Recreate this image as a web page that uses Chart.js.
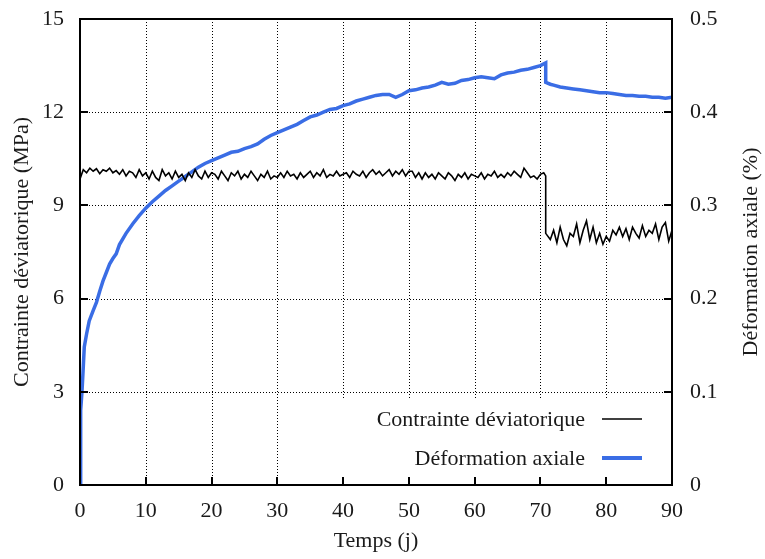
<!DOCTYPE html>
<html>
<head>
<meta charset="utf-8">
<script src="https://cdn.jsdelivr.net/npm/chart.js@4.4.1/dist/chart.umd.min.js"></script>
<style>
  html, body { margin: 0; padding: 0; background: #fff; }
  #wrap { width: 765px; height: 559px; }
</style>
</head>
<body>
<div id="wrap"><canvas id="chart" width="765" height="559"></canvas></div>
<script>
// Contrainte déviatorique (MPa) vs temps (j)
const stressDays = [
  0, 0.5, 1, 1.5, 2, 2.5, 3, 3.5, 4, 4.5, 5, 5.5, 6, 6.5, 7, 7.5, 8, 8.5, 9, 9.5, 10,
  10.5, 11, 11.5, 12, 12.5, 13, 13.5, 14, 14.5, 15, 15.5, 16, 16.5, 17, 17.5, 18, 18.5, 19, 19.5, 20,
  20.5, 21, 21.5, 22, 22.5, 23, 23.5, 24, 24.5, 25, 25.5, 26, 26.5, 27, 27.5, 28, 28.5, 29, 29.5, 30,
  30.5, 31, 31.5, 32, 32.5, 33, 33.5, 34, 34.5, 35, 35.5, 36, 36.5, 37, 37.5, 38, 38.5, 39, 39.5, 40,
  40.5, 41, 41.5, 42, 42.5, 43, 43.5, 44, 44.5, 45, 45.5, 46, 46.5, 47, 47.5, 48, 48.5, 49, 49.5, 50,
  50.5, 51, 51.5, 52, 52.5, 53, 53.5, 54, 54.5, 55, 55.5, 56, 56.5, 57, 57.5, 58, 58.5, 59, 59.5, 60,
  60.5, 61, 61.5, 62, 62.5, 63, 63.5, 64, 64.5, 65, 65.5, 66, 66.5, 67, 67.5, 68, 68.5, 69, 69.5, 70, 70.5,
  70.8, 70.8,
  71.5, 72, 72.5, 73, 73.5, 74, 74.5, 75, 75.5, 76, 76.5, 77, 77.5, 78, 78.5, 79, 79.5, 80,
  80.5, 81, 81.5, 82, 82.5, 83, 83.5, 84, 84.5, 85, 85.5, 86, 86.5, 87, 87.5, 88, 88.5, 89, 89.5, 90
];
const stressValues = [
  9.85, 10.15, 10.05, 10.2, 10.1, 10.18, 10.02, 10.15, 10.1, 10.2, 10.05, 10.12, 10.0, 10.15, 9.95, 10.1, 10.05, 9.9, 10.15, 9.95, 10.05,
  9.85, 10.1, 9.9, 9.8, 10.15, 9.95, 10.05, 9.85, 10.1, 9.9, 10.0, 9.8, 10.05, 9.9, 10.15, 9.95, 9.85, 10.1, 9.9, 10.05,
  10.0, 9.85, 10.1, 9.95, 9.8, 10.05, 9.95, 10.1, 9.85, 10.0, 9.9, 10.1, 9.95, 9.8, 10.0, 9.9, 10.1, 9.85, 9.95, 9.9,
  10.05, 9.9, 10.1, 9.95, 10.0, 9.85, 10.05, 9.9, 10.0, 10.1, 9.9, 10.05, 9.95, 10.15, 9.9, 10.0, 9.95, 10.1, 9.95, 10.0,
  10.05, 9.9, 10.1, 10.0, 9.95, 10.1, 9.9, 10.05, 10.15, 10.0, 10.1, 9.95, 10.05, 10.15, 9.95, 10.1, 10.0, 10.15, 9.95, 10.1,
  10.1, 9.9, 10.05, 9.85, 10.05, 9.9, 10.0, 9.85, 10.05, 9.95, 9.85, 10.05, 9.95, 9.8, 10.0, 9.9, 10.05, 9.85, 10.0, 9.95,
  9.9, 10.05, 9.85, 10.0, 9.95, 10.1, 9.9, 10.0, 9.9, 10.05, 9.95, 10.1, 10.0, 9.9, 10.2, 10.05, 9.9, 9.95, 9.85, 10.0, 10.05,
  9.95, 8.1,
  7.9, 8.2, 7.8, 8.3, 7.9, 7.7, 8.1, 8.0, 8.4, 7.8, 8.2, 8.5, 7.9, 8.3, 7.8, 8.1, 7.75, 8.0,
  7.85, 8.2, 8.05, 8.3, 8.0, 8.25, 7.9, 8.3, 8.1, 7.95, 8.35, 8.0, 8.2, 8.1, 8.4, 7.9, 8.3, 8.45, 7.85, 8.2
];

// Déformation axiale (%) vs temps (j)
const strainDays = [
  0, 0.05, 0.15, 0.3, 0.45, 0.65, 1, 1.4, 2, 2.5, 3, 3.5, 4, 4.5, 5, 5.5,
  6, 7, 8, 9, 10, 11, 12, 13, 14, 15, 16, 17, 18, 19, 20,
  21, 22, 23, 24, 25, 26, 27, 28, 29, 30, 31, 32, 33, 34, 35, 36, 37, 38, 39, 40,
  41, 42, 43, 44, 45, 46, 47, 48, 49, 50, 51, 52, 53, 54, 55, 56, 57, 58, 59, 60,
  61, 62, 63, 64, 65, 66, 67, 68, 69, 70, 70.8, 70.8, 71.5,
  72, 73, 74, 75, 76, 77, 78, 79, 80, 81, 82, 83, 84, 85, 86, 87, 88, 89, 90
];
const strainValues = [
  0, 0.05, 0.08, 0.10, 0.12, 0.148, 0.162, 0.176, 0.187, 0.196, 0.208, 0.219, 0.228, 0.237, 0.243, 0.248,
  0.258, 0.270, 0.280, 0.289, 0.297, 0.304, 0.310, 0.316, 0.321, 0.326, 0.331, 0.336, 0.341, 0.345, 0.348,
  0.351, 0.354, 0.357, 0.358, 0.361, 0.363, 0.366, 0.371, 0.375, 0.378, 0.381, 0.384, 0.387, 0.391, 0.395, 0.397, 0.400, 0.403, 0.404, 0.407,
  0.409, 0.412, 0.414, 0.416, 0.418, 0.419, 0.419, 0.416, 0.419, 0.423, 0.424, 0.426, 0.427, 0.429, 0.432, 0.430, 0.431, 0.434, 0.435, 0.437,
  0.438, 0.437, 0.436, 0.440, 0.442, 0.443, 0.445, 0.446, 0.448, 0.450, 0.453, 0.432, 0.430,
  0.429, 0.427, 0.426, 0.425, 0.424, 0.423, 0.422, 0.421, 0.421, 0.420, 0.419, 0.418, 0.418, 0.417, 0.417, 0.416, 0.416, 0.415, 0.416
];

const seriesLabels = ['Contrainte déviatorique', 'Déformation axiale'];
const xTitle = 'Temps (j)';
const yTitle = 'Contrainte déviatorique (MPa)';
const y2Title = 'Déformation axiale (%)';

const FONT = 'Liberation Serif, Times New Roman, serif';
const TEXT = '#1a1a1a';
const BLUE = '#3a6de5';

// Grid, frame, inward ticks, titles and legend
const decorations = {
  id: 'decorations',
  beforeDatasetsDraw(chart) {
    const { ctx, chartArea: a, scales } = chart;
    ctx.save();
    ctx.strokeStyle = '#000';
    ctx.lineWidth = 1;
    ctx.setLineDash([1, 2]);
    scales.x.ticks.forEach(t => {
      if (t.value <= 0 || t.value >= 90) return;
      const x = Math.round(scales.x.getPixelForValue(t.value)) + 0.5;
      ctx.beginPath(); ctx.moveTo(x, a.top); ctx.lineTo(x, a.bottom); ctx.stroke();
    });
    scales.y.ticks.forEach(t => {
      if (t.value <= 0 || t.value >= 15) return;
      const y = Math.round(scales.y.getPixelForValue(t.value)) + 0.5;
      ctx.beginPath(); ctx.moveTo(a.left, y); ctx.lineTo(a.right, y); ctx.stroke();
    });
    ctx.setLineDash([]);
    // legend background
    ctx.fillStyle = '#fff';
    ctx.fillRect(338, 400, a.right - 338, a.bottom - 400);
    ctx.restore();
  },
  afterDatasetsDraw(chart) {
    const { ctx, chartArea: a, scales } = chart;
    ctx.save();
    ctx.strokeStyle = '#000';
    ctx.lineWidth = 2;
    // inward tick marks
    scales.x.ticks.forEach(t => {
      const x = Math.round(scales.x.getPixelForValue(t.value));
      ctx.beginPath(); ctx.moveTo(x, a.bottom); ctx.lineTo(x, a.bottom - 8); ctx.stroke();
    });
    scales.y.ticks.forEach(t => {
      const y = Math.round(scales.y.getPixelForValue(t.value));
      ctx.beginPath(); ctx.moveTo(a.left, y); ctx.lineTo(a.left + 8, y); ctx.stroke();
    });
    scales.y2.ticks.forEach(t => {
      const y = Math.round(scales.y2.getPixelForValue(t.value));
      ctx.beginPath(); ctx.moveTo(a.right, y); ctx.lineTo(a.right - 8, y); ctx.stroke();
    });
    // frame
    ctx.strokeRect(a.left, a.top, a.right - a.left, a.bottom - a.top);

    // legend
    ctx.font = '22px ' + FONT;
    ctx.fillStyle = TEXT;
    ctx.textAlign = 'right';
    ctx.textBaseline = 'alphabetic';
    ctx.fillText(seriesLabels[0], 585, 426);
    ctx.fillText(seriesLabels[1], 585, 465);
    ctx.lineWidth = 1.6;
    ctx.strokeStyle = '#000';
    ctx.beginPath(); ctx.moveTo(602, 419); ctx.lineTo(642, 419); ctx.stroke();
    ctx.lineWidth = 4;
    ctx.strokeStyle = BLUE;
    ctx.beginPath(); ctx.moveTo(602, 458); ctx.lineTo(642, 458); ctx.stroke();

    // axis titles
    ctx.fillStyle = TEXT;
    ctx.textAlign = 'center';
    ctx.textBaseline = 'middle';
    ctx.fillText(xTitle, (a.left + a.right) / 2, 541);
    const cy = (a.top + a.bottom) / 2;
    ctx.save();
    ctx.translate(22, cy);
    ctx.rotate(-Math.PI / 2);
    ctx.fillText(yTitle, 0, 0);
    ctx.restore();
    ctx.save();
    ctx.translate(751, cy);
    ctx.rotate(-Math.PI / 2);
    ctx.fillText(y2Title, 0, 0);
    ctx.restore();
    ctx.restore();
  }
};

const tickFont = { family: FONT, size: 22 };

new Chart(document.getElementById('chart'), {
  type: 'line',
  data: {
    datasets: [
      {
        label: seriesLabels[0],
        data: stressDays.map((d, i) => ({ x: d, y: stressValues[i] })),
        yAxisID: 'y',
        borderColor: '#000',
        borderWidth: 1.6,
        pointRadius: 0,
        tension: 0
      },
      {
        label: seriesLabels[1],
        data: strainDays.map((d, i) => ({ x: d, y: strainValues[i] })),
        yAxisID: 'y2',
        borderColor: BLUE,
        borderWidth: 3.5,
        pointRadius: 0,
        tension: 0
      }
    ]
  },
  options: {
    responsive: false,
    animation: false,
    layout: { padding: { top: 19, left: 0, right: 0, bottom: 0 } },
    plugins: { legend: { display: false }, tooltip: { enabled: false } },
    scales: {
      x: {
        type: 'linear', min: 0, max: 90,
        grid: { display: false, drawTicks: false },
        border: { display: false },
        ticks: { stepSize: 10, font: tickFont, color: TEXT, padding: 13, maxRotation: 0 },
        afterFit(scale) { scale.height = 74; scale.paddingLeft = 0; scale.paddingRight = 0; }
      },
      y: {
        position: 'left', min: 0, max: 15,
        grid: { display: false, drawTicks: false },
        border: { display: false },
        ticks: { stepSize: 3, font: tickFont, color: TEXT, padding: 16 },
        afterFit(scale) { scale.width = 80; scale.paddingTop = 0; scale.paddingBottom = 0; }
      },
      y2: {
        position: 'right', min: 0, max: 0.5,
        grid: { display: false, drawTicks: false },
        border: { display: false },
        ticks: { stepSize: 0.1, font: tickFont, color: TEXT, padding: 18 },
        afterFit(scale) { scale.width = 93; scale.paddingTop = 0; scale.paddingBottom = 0; }
      }
    }
  },
  plugins: [decorations]
});
</script>
</body>
</html>
